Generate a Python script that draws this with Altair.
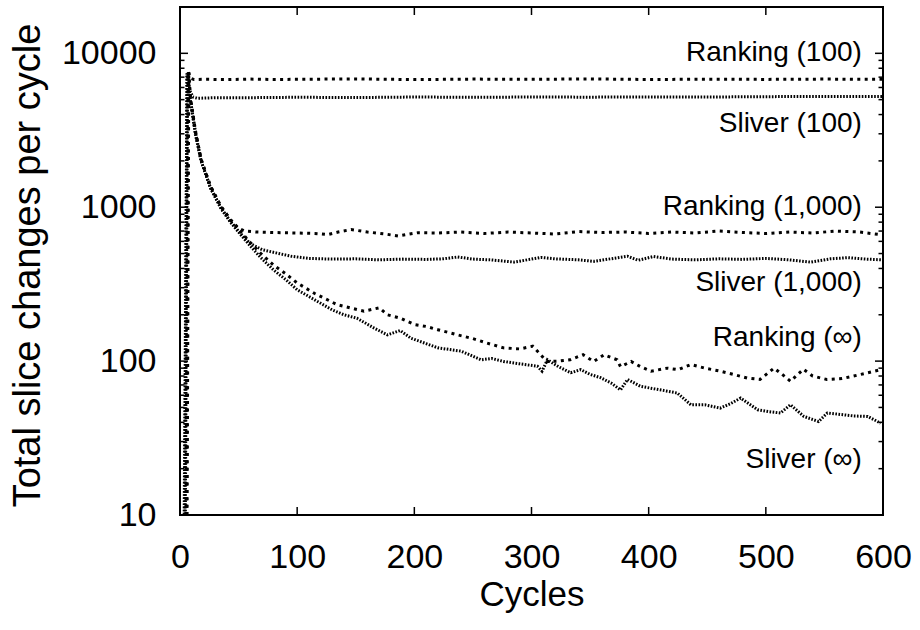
import altair as alt
import pandas as pd

# ---------------- data ----------------
rank100_x = [5, 7, 9, 12, 20, 40, 60, 80, 100, 150, 200, 250, 300, 350, 400, 450, 500, 550, 600]
rank100_y = [8, 7600, 6900, 6750, 6780, 6750, 6800, 6760, 6780, 6820, 6750, 6800, 6780, 6820, 6760, 6790, 6770, 6800, 6780]

sliver100_x = [4, 6, 8, 11, 15, 30, 60, 100, 150, 200, 250, 300, 350, 400, 450, 500, 550, 600]
sliver100_y = [8, 7400, 5800, 5200, 5100, 5150, 5150, 5180, 5160, 5200, 5180, 5200, 5190, 5210, 5200, 5230, 5240, 5250]

rank1k_x = [5.5, 7, 9, 13, 18, 26, 35, 43, 50, 55, 65, 80, 100, 115, 126, 135, 146, 160, 175, 186,
            203, 220, 240, 260, 280, 300, 320, 340, 360, 380, 400, 420, 440, 460, 480, 500, 520,
            540, 560, 580, 600]
rank1k_y = [8, 7600, 5000, 3100, 2050, 1370, 1010, 830, 730, 700, 690, 685, 680, 675, 664, 690, 716,
            690, 670, 650, 683, 680, 690, 675, 690, 680, 670, 695, 685, 690, 675, 690, 680, 700,
            685, 675, 690, 680, 700, 690, 660]

sliver1k_x = [3.5, 6, 9, 13, 18, 26, 35, 43, 52, 60, 70, 82, 95, 110, 130, 150, 170, 190, 210, 225,
              237, 250, 265, 285, 300, 308, 320, 340, 353, 370, 382, 391, 404, 420, 440, 460, 480,
              500, 520, 538, 555, 570, 585, 600]
sliver1k_y = [8, 7400, 4900, 3000, 2000, 1340, 990, 810, 670, 580, 530, 505, 480, 465, 460, 462,
              455, 460, 458, 462, 475, 460, 455, 440, 460, 472, 462, 455, 445, 465, 480, 452, 478,
              460, 455, 462, 458, 465, 455, 440, 462, 470, 460, 455]

rankinf_x = [6, 7.5, 9, 13.5, 18, 26, 35, 43, 52, 60, 69, 80, 90, 100, 115, 134, 145, 157, 170, 177,
             188, 200, 210, 220, 237, 250, 262, 276, 290, 301, 307, 313, 323, 333, 344, 353, 362,
             373, 376, 385, 393, 402, 416, 425, 436, 448, 461, 472, 484, 495, 507, 514, 521, 532,
             540, 552, 565, 575, 587, 598]
rankinf_y = [8, 7600, 5000, 3060, 2040, 1370, 1010, 830, 690, 590, 500, 420, 370, 322, 275, 233,
             222, 211, 222, 200, 190, 173, 168, 160, 148, 140, 131, 122, 120, 125, 112, 99.5, 100,
             102, 110, 99.5, 110, 102, 92, 99.5, 92, 86, 90, 88, 95, 90, 86, 82, 77.6, 76, 90, 82,
             74, 88.5, 80, 76, 77, 80, 84, 88]

sliverinf_x = [4.5, 6.5, 9, 13.5, 18, 26, 35, 43, 52, 60, 69, 80, 90, 100, 115, 130, 140, 151, 165,
               177, 188, 197, 210, 220, 240, 257, 266, 276, 290, 305, 309, 313.6, 323, 333.5, 342,
               350, 359, 368, 376, 382, 393, 405, 415, 424.5, 436, 448, 461, 470, 478.5, 493, 502,
               512.5, 521, 532.5, 545, 552.5, 564, 575, 587, 598]
sliverinf_y = [8, 7400, 4900, 3000, 2000, 1330, 980, 800, 660, 560, 470, 390, 340, 291, 250, 215,
               200, 190, 165, 148, 158, 141, 130, 122, 116, 102, 104, 99.5, 96, 92.7, 86, 102, 92,
               84, 88, 82, 78, 72, 65, 76, 68.6, 66, 64, 62, 52, 52, 49.5, 53, 57.5, 48.3, 47, 46,
               52, 43.7, 40.5, 46, 45, 44, 43.7, 39.5]

label_text = ["Ranking (100)", "Sliver (100)", "Ranking (1,000)", "Sliver (1,000)",
              "Ranking (\u221e)", "Sliver (\u221e)"]
label_x = [582, 582, 582, 582, 582, 582]
label_y = [10000, 3450, 1000, 324, 142, 22.9]

x_major = [0, 100, 200, 300, 400, 500, 600]
y_major = [10, 100, 1000, 10000]
y_minor = [20, 30, 40, 50, 60, 70, 80, 90, 200, 300, 400, 500, 600, 700, 800, 900,
           2000, 3000, 4000, 5000, 6000, 7000, 8000, 9000, 20000]

# ---------------- table ----------------
series = [
    ("Ranking (100)", "Ranking", rank100_x, rank100_y),
    ("Sliver (100)", "Sliver", sliver100_x, sliver100_y),
    ("Ranking (1,000)", "Ranking", rank1k_x, rank1k_y),
    ("Sliver (1,000)", "Sliver", sliver1k_x, sliver1k_y),
    ("Ranking (inf)", "Ranking", rankinf_x, rankinf_y),
    ("Sliver (inf)", "Sliver", sliverinf_x, sliverinf_y),
]
rows = []
for name, kind, xs, ys in series:
    for i, (xv, yv) in enumerate(zip(xs, ys)):
        rows.append({"series": name, "kind": kind, "cycle": xv, "changes": yv, "order": i})
df = pd.DataFrame(rows)
labels_df = pd.DataFrame({"label": label_text, "cycle": label_x, "changes": label_y})

FONT = "Liberation Sans"
W, H = 703, 508
x_scale = alt.Scale(domain=[0, 600], nice=False, zero=False)
y_scale = alt.Scale(type="log", domain=[10, 20000], nice=False)

lines = alt.Chart(df).mark_line(clip=True, strokeWidth=3, strokeCap="butt", color="black").encode(
    x=alt.X("cycle:Q", scale=x_scale,
            axis=alt.Axis(orient="bottom", title="Cycles", values=x_major, ticks=False, domain=False,
                          grid=False, labelFontSize=34, labelPadding=25, labelFlush=False,
                          labelColor="black", titleFontSize=35, titleFontWeight="normal",
                          titleColor="black", titleBaseline="alphabetic", titleY=90)),
    y=alt.Y("changes:Q", scale=y_scale,
            axis=alt.Axis(orient="left", title="Total slice changes per cycle", values=y_major,
                          format="d", ticks=False, domain=False, grid=False, labelFontSize=34,
                          labelPadding=24, labelFlush=False, labelColor="black",
                          titleFontSize=38, titleFontWeight="normal", titleColor="black",
                          titleBaseline="alphabetic", titleX=-141, titleY=258, titleAngle=270)),
    detail="series:N",
    order="order:Q",
    strokeDash=alt.StrokeDash("kind:N", scale=alt.Scale(domain=["Ranking", "Sliver"],
                                                        range=[[3, 4.4], [1.6, 1.5]]),
                              legend=None),
)

texts = alt.Chart(labels_df).mark_text(align="right", baseline="middle", fontSize=28, font=FONT,
                                       color="black").encode(
    x=alt.X("cycle:Q", scale=x_scale, axis=None),
    y=alt.Y("changes:Q", scale=y_scale, axis=None),
    text="label:N",
)


# inward tick marks (gnuplot style), positioned by the shared scales
def y_ticks(values, side, size):
    d = pd.DataFrame({"v": values})
    if side == "left":
        xa, xb = 0, size
    else:
        xa, xb = W - size, W
    return alt.Chart(d).mark_rule(color="black", strokeWidth=1.5).encode(
        y=alt.Y("v:Q", scale=y_scale, axis=None),
        x=alt.value(xa), x2=alt.value(xb),
    )


def x_ticks(values, side, size):
    d = pd.DataFrame({"v": values})
    if side == "top":
        ya, yb = 0, size
    else:
        ya, yb = H - size, H
    return alt.Chart(d).mark_rule(color="black", strokeWidth=1.5).encode(
        x=alt.X("v:Q", scale=x_scale, axis=None),
        y=alt.value(ya), y2=alt.value(yb),
    )


ticks = [
    x_ticks(x_major, "bottom", 8),
    x_ticks(x_major, "top", 8),
    y_ticks(y_major, "left", 8),
    y_ticks(y_minor, "left", 4.5),
    y_ticks(y_major, "right", 8),
    y_ticks(y_minor, "right", 4.5),
]

chart = alt.layer(lines, texts, *ticks).resolve_axis(
    x="independent", y="independent"
).properties(
    width=W, height=H,
    autosize=alt.AutoSizeParams(type="none"),
    padding={"left": 180, "top": 7, "right": 37, "bottom": 115},
    background="white",
).configure_view(
    stroke="black", strokeWidth=2
).configure_axis(
    labelFont=FONT, titleFont=FONT
)

chart.save("out.html", embed_options={"renderer": "svg", "actions": False})
